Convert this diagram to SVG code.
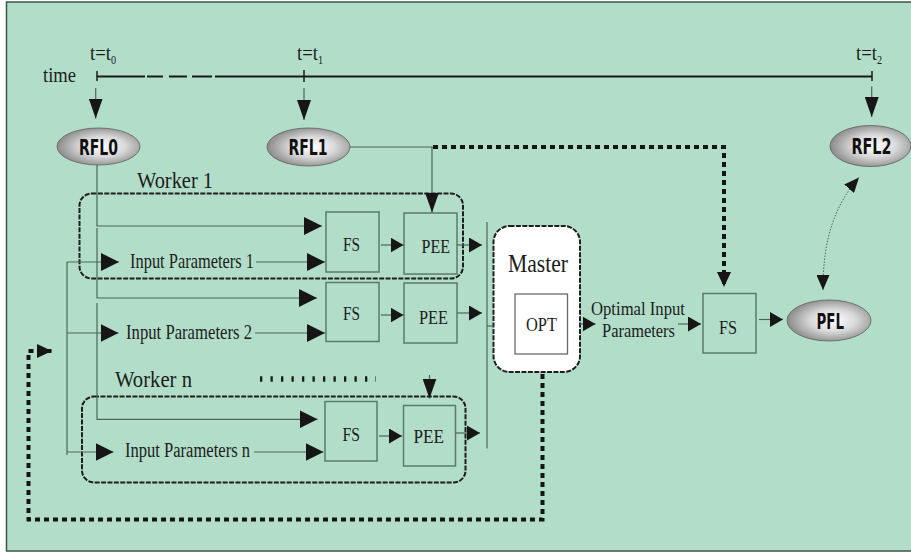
<svg xmlns="http://www.w3.org/2000/svg" width="911" height="553" viewBox="0 0 911 553">
  <style>
    .thin { fill: none; stroke: #4b6658; stroke-width: 1.2; }
    .box { fill: none; stroke: #5a7b69; stroke-width: 1.5; }
    .dot { fill: none; stroke: #141414; stroke-width: 4; stroke-dasharray: 5 4; }
    .grp { fill: none; stroke: #1e1e1e; stroke-width: 2; stroke-dasharray: 5 1.4; }
    .serif { font-family: "Liberation Serif", "Times New Roman", serif; fill: #1c1c1c; }
    .tag { font-family: "DejaVu Sans", "Liberation Sans", sans-serif; font-weight: bold; fill: #111; font-size: 21px; }
    .ell { fill: url(#shade); stroke: #5e5e5e; stroke-width: 0.8; }
  </style>
  <defs>
    <radialGradient id="shade" cx="0.55" cy="0.5" r="0.6">
      <stop offset="0" stop-color="#ffffff"/>
      <stop offset="0.45" stop-color="#d9d9d9"/>
      <stop offset="1" stop-color="#7c7c7c"/>
    </radialGradient>
    <!-- arrowheads, sized in user units -->
    <marker id="aBig" markerUnits="userSpaceOnUse" markerWidth="20" markerHeight="14" refX="20" refY="7" orient="auto">
      <path d="M0,0 L20,7 L0,14 z" fill="#161616"/>
    </marker>
    <marker id="aMed" markerUnits="userSpaceOnUse" markerWidth="18" markerHeight="18" refX="18" refY="9" orient="auto">
      <path d="M0,0 L18,9 L0,18 z" fill="#161616"/>
    </marker>
    <marker id="aSm" markerUnits="userSpaceOnUse" markerWidth="13" markerHeight="15" refX="13" refY="7.5" orient="auto">
      <path d="M0,0 L13,7.5 L0,15 z" fill="#161616"/>
    </marker>
    <marker id="aDot" markerUnits="userSpaceOnUse" markerWidth="15" markerHeight="14" refX="15" refY="7" orient="auto">
      <path d="M0,0 L15,7 L0,14 z" fill="#161616"/>
    </marker>
    <marker id="aDotBoth" markerUnits="userSpaceOnUse" markerWidth="15" markerHeight="13" refX="15" refY="6.5" orient="auto-start-reverse">
      <path d="M0,0 L15,6.5 L0,13 z" fill="#161616"/>
    </marker>
  </defs>

  <!-- page and frame -->
  <rect x="0" y="0" width="911" height="553" fill="#ffffff"/>
  <rect x="6.5" y="2" width="920" height="549" fill="#b2dec9" stroke="#3b5446" stroke-width="1.5"/>

  <!-- time axis -->
  <g id="time-axis">
    <text class="serif" x="43" y="82" font-size="21" textLength="33" lengthAdjust="spacingAndGlyphs">time</text>
    <path d="M97,76.5 H145 M147,76.5 H163 M169,76.5 H187 M192,76.5 H212 M215,76.5 H872" stroke="#1a1a1a" stroke-width="2" fill="none"/>
    <path d="M97,71 V81 M304,70 V82 M872,71 V81" stroke="#1a1a1a" stroke-width="1.5" fill="none"/>
    <text class="serif" transform="translate(90,60) scale(0.85,1)" font-size="22">t=t<tspan font-size="12" dy="4">0</tspan></text>
    <text class="serif" transform="translate(297,60) scale(0.85,1)" font-size="22">t=t<tspan font-size="12" dy="4">1</tspan></text>
    <text class="serif" transform="translate(856,60) scale(0.85,1)" font-size="22">t=t<tspan font-size="12" dy="4">2</tspan></text>
  </g>

  <!-- reference field levels -->
  <g id="rfl0">
    <ellipse class="ell" cx="98.5" cy="146.5" rx="41.5" ry="18.5"/>
    <text class="tag" x="79" y="154.5" textLength="39" lengthAdjust="spacingAndGlyphs">RFL0</text>
  </g>
  <g id="rfl1">
    <ellipse class="ell" cx="308.5" cy="147" rx="41.5" ry="19"/>
    <text class="tag" x="288.5" y="154.5" textLength="39" lengthAdjust="spacingAndGlyphs">RFL1</text>
  </g>
  <g id="rfl2">
    <ellipse class="ell" cx="870.5" cy="146" rx="40.5" ry="20.5"/>
    <text class="tag" x="851.5" y="154" textLength="40" lengthAdjust="spacingAndGlyphs">RFL2</text>
  </g>

  <!-- worker 1 -->
  <g id="worker1">
    <rect class="grp" x="79.5" y="193.5" width="383.5" height="85" rx="12"/>
    <text class="serif" x="137" y="188" font-size="23" textLength="76" lengthAdjust="spacingAndGlyphs">Worker 1</text>
    <text class="serif" x="130" y="268" font-size="21" textLength="124" lengthAdjust="spacingAndGlyphs">Input Parameters 1</text>
  </g>
  <g id="fs1">
    <rect class="box" x="326" y="212" width="53" height="60"/>
    <text class="serif" x="343" y="251" font-size="19" textLength="17" lengthAdjust="spacingAndGlyphs">FS</text>
  </g>
  <g id="pee1">
    <rect class="box" x="404" y="213" width="53" height="61"/>
    <text class="serif" x="421.5" y="252.5" font-size="19" textLength="28.5" lengthAdjust="spacingAndGlyphs">PEE</text>
  </g>

  <!-- worker 2 -->
  <g id="worker2">
    <text class="serif" x="126" y="338.5" font-size="21" textLength="126" lengthAdjust="spacingAndGlyphs">Input Parameters 2</text>
  </g>
  <g id="fs2">
    <rect class="box" x="326" y="282.5" width="53" height="59"/>
    <text class="serif" x="343" y="320" font-size="19" textLength="17" lengthAdjust="spacingAndGlyphs">FS</text>
  </g>
  <g id="pee2">
    <rect class="box" x="404" y="283" width="53" height="60"/>
    <text class="serif" x="419" y="323.5" font-size="19" textLength="29" lengthAdjust="spacingAndGlyphs">PEE</text>
  </g>

  <!-- worker n -->
  <g id="workern">
    <rect class="grp" x="82" y="396.5" width="383.5" height="86" rx="12"/>
    <text class="serif" x="115" y="387" font-size="23" textLength="77" lengthAdjust="spacingAndGlyphs">Worker n</text>
    <text class="serif" x="125" y="456.5" font-size="20" textLength="125" lengthAdjust="spacingAndGlyphs">Input Parameters n</text>
    <line x1="260" y1="379" x2="376" y2="379" stroke="#1a1a1a" stroke-width="5.5" stroke-dasharray="2.3 8.2"/>
  </g>
  <g id="fsn">
    <rect class="box" x="325" y="401.5" width="52" height="59.5"/>
    <text class="serif" x="342.5" y="441" font-size="19" textLength="17.5" lengthAdjust="spacingAndGlyphs">FS</text>
  </g>
  <g id="peen">
    <rect class="box" x="403.5" y="405.5" width="52" height="60.5"/>
    <text class="serif" x="413.5" y="443" font-size="19" textLength="30.5" lengthAdjust="spacingAndGlyphs">PEE</text>
  </g>

  <!-- master -->
  <g id="master">
    <rect x="493.5" y="226" width="86.5" height="146" rx="16" fill="#ffffff" stroke="#1e1e1e" stroke-width="2" stroke-dasharray="5 1.4"/>
    <text class="serif" x="508" y="272" font-size="26" textLength="60" lengthAdjust="spacingAndGlyphs">Master</text>
    <rect x="515" y="294" width="52.5" height="60" fill="#ffffff" stroke="#6a6a6a" stroke-width="1.3"/>
    <text class="serif" x="526" y="331" font-size="19" textLength="31" lengthAdjust="spacingAndGlyphs">OPT</text>
  </g>

  <g id="optimal-label">
    <text class="serif" x="591" y="315" font-size="19.5" textLength="94" lengthAdjust="spacingAndGlyphs">Optimal Input</text>
    <text class="serif" x="602" y="337" font-size="19.5" textLength="73" lengthAdjust="spacingAndGlyphs">Parameters</text>
  </g>

  <g id="fs-final">
    <rect class="box" x="703" y="293.5" width="53" height="59.5"/>
    <text class="serif" x="719" y="333.5" font-size="19" textLength="18" lengthAdjust="spacingAndGlyphs">FS</text>
  </g>

  <g id="pfl">
    <ellipse class="ell" cx="829" cy="320.5" rx="42" ry="20.5"/>
    <text class="tag" x="816.5" y="328.5" textLength="27.5" lengthAdjust="spacingAndGlyphs">PFL</text>
  </g>

  <!-- connectors -->
  <g id="connectors">
    <!-- time axis to field levels -->
    <line class="thin" x1="95.7" y1="88" x2="95.7" y2="118.5" marker-end="url(#aBig)"/>
    <line class="thin" x1="304" y1="88" x2="304" y2="120" marker-end="url(#aBig)"/>
    <line class="thin" x1="871.7" y1="86.5" x2="871.7" y2="117" marker-end="url(#aBig)"/>

    <!-- RFL0 distribution to the forward simulators -->
    <polyline class="thin" points="97,165 97,226 322,226" marker-end="url(#aMed)"/>
    <polyline class="thin" points="97,228 97,298 317,298" marker-end="url(#aMed)"/>
    <polyline class="thin" points="97,303 97,419.3 317.5,419.3" marker-end="url(#aMed)"/>

    <!-- input parameter feeds -->
    <line class="thin" x1="67" y1="262" x2="119" y2="262" marker-end="url(#aMed)"/>
    <line class="thin" x1="256" y1="262" x2="325" y2="262" marker-end="url(#aMed)"/>
    <line class="thin" x1="67" y1="333" x2="118.5" y2="333" marker-end="url(#aMed)"/>
    <line class="thin" x1="255" y1="333" x2="325" y2="333" marker-end="url(#aMed)"/>
    <line class="thin" x1="67" y1="452" x2="113.5" y2="452" marker-end="url(#aMed)"/>
    <line class="thin" x1="254" y1="452" x2="323.5" y2="452" marker-end="url(#aMed)"/>
    <line class="thin" x1="67" y1="262" x2="67" y2="455"/>

    <!-- FS to PEE -->
    <line class="thin" x1="381" y1="245" x2="403.5" y2="245" marker-end="url(#aSm)"/>
    <line class="thin" x1="381" y1="315" x2="403.5" y2="315" marker-end="url(#aSm)"/>
    <line class="thin" x1="379" y1="436" x2="402" y2="436" marker-end="url(#aSm)"/>

    <!-- PEE to master bus -->
    <line class="thin" x1="457" y1="245" x2="482" y2="245" marker-end="url(#aSm)"/>
    <line class="thin" x1="457" y1="313" x2="482" y2="313" marker-end="url(#aSm)"/>
    <line class="thin" x1="455.5" y1="433" x2="480" y2="433" marker-end="url(#aSm)"/>
    <line class="thin" x1="487" y1="222" x2="487" y2="448.5"/>
    <line class="thin" x1="487" y1="326" x2="493.5" y2="326"/>

    <!-- RFL1 to PEE -->
    <polyline class="thin" points="350,147 432,147 432,212.5" marker-end="url(#aBig)"/>
    <line class="thin" x1="429.5" y1="375" x2="429.5" y2="398.5" marker-end="url(#aBig)"/>

    <!-- RFL1 to final forward simulation -->
    <polyline class="dot" points="433,147 724,147 724,287" marker-end="url(#aDot)"/>

    <!-- master output -->
    <line class="thin" x1="580" y1="324" x2="595.5" y2="324" marker-end="url(#aSm)"/>
    <line class="thin" x1="678" y1="324" x2="701" y2="324" marker-end="url(#aSm)"/>
    <line class="thin" x1="759" y1="319.5" x2="783" y2="319.5" marker-end="url(#aSm)"/>

    <!-- feedback loop from master back to the inputs -->
    <polyline class="dot" stroke-width="3.5" stroke-dasharray="5 4.5" points="542.5,374 542.5,519.5 28.5,519.5 28.5,351 52,351" marker-end="url(#aDot)"/>

    <!-- PFL compared with RFL2 -->
    <path d="M823,290 C823,240 834,206 859,177.5" fill="none" stroke="#4b6658" stroke-width="1" stroke-dasharray="1.5 1.5" marker-start="url(#aDotBoth)" marker-end="url(#aDotBoth)"/>
  </g>
</svg>
